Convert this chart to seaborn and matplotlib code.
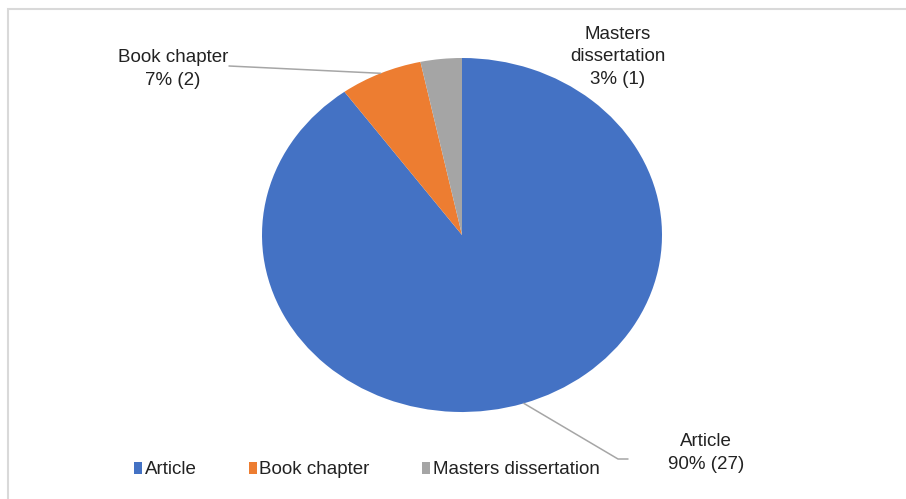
import numpy as np
import matplotlib
matplotlib.use("Agg")
import matplotlib.pyplot as plt
from matplotlib.patches import Rectangle
import seaborn as sns

# data
categories = ["Article", "Book chapter", "Masters dissertation"]
label_names = ["Article", "Book chapter", "Masters\ndissertation"]
counts = [27, 2, 1]
colors = ["#4472C4", "#ED7D31", "#A5A5A5"]

sns.set_theme(style="white")
plt.rcParams["font.family"] = ["Liberation Sans", "DejaVu Sans"]

W, H = 906, 499
fig = plt.figure(figsize=(W / 100, H / 100), dpi=100)
ax = fig.add_axes([0, 0, 1, 1])

# pie is slightly stretched in the reference: centre and radii in pixels
cx, cy, rx, ry = 462, 235, 200, 177

wedges, _ = ax.pie(counts, colors=colors, startangle=90, counterclock=False,
                   wedgeprops=dict(linewidth=0))
ax.set_aspect("auto")
ax.set_xlim((0 - cx) / rx, (W - cx) / rx)
ax.set_ylim((cy - H) / ry, cy / ry)

total = sum(counts)
pct = [round(100 * c / total) for c in counts]
texts = [f"{n}\n{p}% ({c})" for n, p, c in zip(label_names, pct, counts)]


def px(x, y):
    # pixel (top-left origin) -> data coords
    return (x - cx) / rx, (cy - y) / ry


def edge_point(w):
    ang = np.deg2rad((w.theta1 + w.theta2) / 2)
    return np.cos(ang), np.sin(ang)


line_kw = dict(color="#A6A6A6", lw=1.1)
fs = 13.5
txt_kw = dict(ha="center", va="center", fontsize=fs, linespacing=1.45,
              color="#222222")

# Article label with bent leader
x0, y0 = edge_point(wedges[0])
xa, ya = px(618, 459)
xb, yb = px(628, 459)
ax.plot([x0, xa, xb], [y0, ya, yb], **line_kw)
ax.text(*px(706, 453), texts[0], **txt_kw)

# Book chapter label
x1, y1 = edge_point(wedges[1])
xc, yc = px(229, 66)
ax.plot([x1, xc], [y1, yc], **line_kw)
ax.text(*px(173, 69), texts[1], **txt_kw)

# Masters dissertation label
ax.text(*px(618, 57), texts[2], **txt_kw)

# legend
handles = [Rectangle((0, 0), 1, 1, facecolor=c, edgecolor="none") for c in colors]
fig.legend(handles, categories, loc="center", ncol=3, frameon=False,
           bbox_to_anchor=(367 / W, 1 - 470 / H), fontsize=fs,
           handlelength=0.4, handleheight=0.6, handletextpad=0.15,
           columnspacing=2.8, labelcolor="#222222")

# thin chart-area border
fig.add_artist(Rectangle((8 / W, -0.05), 1.2, 1.05 - 9 / H, transform=fig.transFigure,
                         fill=False, edgecolor="#D9D9D9", lw=1.5))

fig.savefig("out.png", dpi=100)
